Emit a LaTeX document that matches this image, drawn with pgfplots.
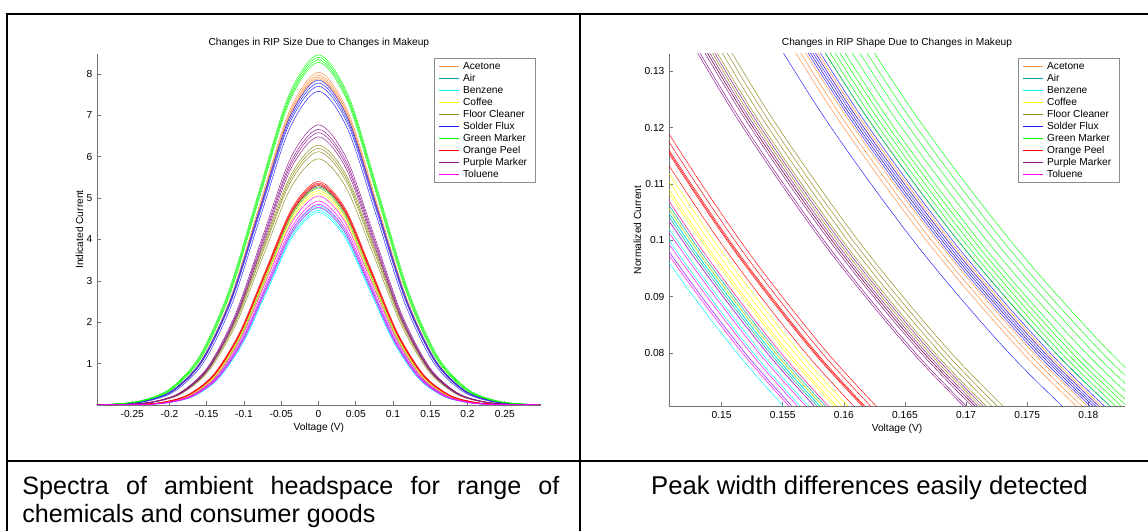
\documentclass[border=0pt]{standalone}
\usepackage{fontspec}
\setmainfont{Liberation Sans}
\usepackage{pgfplots}
\usepackage{pgfplotstable}
\pgfplotsset{compat=1.18}

\definecolor{cAce}{RGB}{255,140,60}
\definecolor{cAir}{RGB}{0,160,160}
\definecolor{cBen}{RGB}{0,255,255}
\definecolor{cCof}{RGB}{255,255,0}
\definecolor{cFlo}{RGB}{140,140,20}
\definecolor{cSol}{RGB}{30,30,255}
\definecolor{cGre}{RGB}{0,255,0}
\definecolor{cOra}{RGB}{255,0,0}
\definecolor{cPur}{RGB}{140,20,140}
\definecolor{cTol}{RGB}{255,0,255}

\newcommand{\tf}{\fontsize{10.2}{12}\selectfont}

% right chart: y levels shared, one x column per curve
\pgfplotstableread{
y a b c d e f
0.14938 0.15327 0.15308 0.15269 0.15230 0.15191 0.15152
0.12230 0.16113 0.16092 0.16051 0.16010 0.15969 0.15929
0.09914 0.16899 0.16878 0.16835 0.16792 0.16749 0.16706
0.07956 0.17685 0.17663 0.17618 0.17573 0.17528 0.17483
0.06321 0.18471 0.18448 0.18401 0.18354 0.18307 0.18260
}\RAce
\pgfplotstableread{
y a b c d e
0.14938 0.13416 0.13397 0.13377 0.13358 0.13338
0.12230 0.14104 0.14084 0.14063 0.14043 0.14022
0.09914 0.14792 0.14771 0.14749 0.14728 0.14706
0.07956 0.15480 0.15458 0.15435 0.15413 0.15390
0.06321 0.16168 0.16145 0.16121 0.16098 0.16074
}\RAir
\pgfplotstableread{
y a b c d e
0.14938 0.13377 0.13299 0.13241 0.13182 0.13124
0.12230 0.14063 0.13981 0.13919 0.13858 0.13796
0.09914 0.14749 0.14663 0.14598 0.14534 0.14470
0.07956 0.15435 0.15345 0.15277 0.15210 0.15143
0.06321 0.16121 0.16027 0.15956 0.15886 0.15816
}\RBen
\pgfplotstableread{
y a b c d e f
0.14938 0.13572 0.13533 0.13494 0.13475 0.13436 0.13397
0.12230 0.14268 0.14227 0.14186 0.14166 0.14125 0.14084
0.09914 0.14964 0.14921 0.14878 0.14857 0.14814 0.14771
0.07956 0.15660 0.15615 0.15570 0.15548 0.15503 0.15458
0.06321 0.16356 0.16309 0.16262 0.16239 0.16192 0.16145
}\RCof
\pgfplotstableread{
y a b c d e f
0.14938 0.14645 0.14606 0.14567 0.14528 0.14489 0.14450
0.12230 0.15396 0.15355 0.15314 0.15273 0.15232 0.15191
0.09914 0.16147 0.16104 0.16061 0.16018 0.15975 0.15932
0.07956 0.16898 0.16853 0.16808 0.16763 0.16718 0.16673
0.06321 0.17649 0.17602 0.17555 0.17508 0.17461 0.17414
}\RFlo
\pgfplotstableread{
y a b c d e f g
0.14938 0.15386 0.15347 0.15308 0.15288 0.15269 0.15249 0.15054
0.12230 0.16175 0.16134 0.16092 0.16072 0.16051 0.16031 0.15826
0.09914 0.16964 0.16921 0.16878 0.16856 0.16835 0.16813 0.16598
0.07956 0.17753 0.17708 0.17663 0.17640 0.17618 0.17595 0.17370
0.06321 0.18542 0.18495 0.18448 0.18424 0.18401 0.18377 0.18142
}\RSol
\pgfplotstableread{
y a b c d e f g h i
0.14938 0.15776 0.15717 0.15659 0.15600 0.15542 0.15503 0.15464 0.15425 0.15386
0.12230 0.16585 0.16523 0.16462 0.16400 0.16339 0.16298 0.16257 0.16216 0.16175
0.09914 0.17394 0.17329 0.17265 0.17200 0.17136 0.17093 0.17050 0.17007 0.16964
0.07956 0.18203 0.18135 0.18068 0.18000 0.17933 0.17888 0.17843 0.17798 0.17753
0.06321 0.19012 0.18941 0.18871 0.18800 0.18730 0.18683 0.18636 0.18589 0.18542
}\RGre
\pgfplotstableread{
y a b c d e f
0.14938 0.13767 0.13728 0.13689 0.13679 0.13670 0.13611
0.12230 0.14473 0.14432 0.14391 0.14381 0.14371 0.14309
0.09914 0.15179 0.15136 0.15093 0.15082 0.15072 0.15007
0.07956 0.15885 0.15840 0.15795 0.15784 0.15773 0.15705
0.06321 0.16591 0.16544 0.16497 0.16485 0.16474 0.16403
}\ROra
\pgfplotstableread{
y a b c d e f
0.14938 0.14508 0.14469 0.14450 0.14430 0.14391 0.14372
0.12230 0.15252 0.15211 0.15191 0.15170 0.15129 0.15109
0.09914 0.15996 0.15953 0.15932 0.15910 0.15867 0.15846
0.07956 0.16740 0.16695 0.16673 0.16650 0.16605 0.16583
0.06321 0.17484 0.17437 0.17414 0.17390 0.17343 0.17320
}\RPur
\pgfplotstableread{
y a b c d e f
0.14938 0.13436 0.13338 0.13280 0.13221 0.13182 0.13163
0.12230 0.14125 0.14022 0.13961 0.13899 0.13858 0.13838
0.09914 0.14814 0.14706 0.14642 0.14577 0.14534 0.14513
0.07956 0.15503 0.15390 0.15323 0.15255 0.15210 0.15188
0.06321 0.16192 0.16074 0.16004 0.15933 0.15886 0.15863
}\RTol

\pgfplotsset{
  ripaxis/.style={
    scale only axis,
    axis x line*=bottom, axis y line*=left,
    axis line style={draw=black!55, line width=0.6pt},
    every tick/.style={draw=black!55, line width=0.6pt},
    tick align=inside, major tick length=4pt,
    ticklabel style={font=\tf, text=black},
    xticklabel style={anchor=base, inner sep=0pt, yshift=-12.6pt},
    yticklabel style={anchor=east, inner sep=0pt, xshift=-4.4pt},
    every axis title/.style={font=\tf, at={(0.5,1)}, anchor=base, inner sep=0pt, yshift=8.4pt},
    every axis x label/.style={at={(axis description cs:0.5,0)}, anchor=base, inner sep=0pt, yshift=-25.6pt, font=\tf},
    every axis plot/.append style={line width=0.45pt, no markers, smooth, forget plot},
    legend cell align=left,
    legend image code/.code={\draw[#1,line width=0.5pt] (0pt,0pt) -- (20pt,0pt);},
    legend style={at={(1,1)}, anchor=north east, xshift=-5pt, yshift=-4pt,
      draw=black!45, line width=0.6pt, fill=white, font=\tf,
      inner xsep=5pt, inner ysep=2pt, row sep=0pt,
      nodes={inner xsep=3.5pt, inner ysep=1.5pt, text height=7.5pt, text depth=1.5pt}},
  },
}

\newcommand{\legendall}{%
  \addlegendimage{cAce}\addlegendentry{Acetone}
  \addlegendimage{cAir}\addlegendentry{Air}
  \addlegendimage{cBen}\addlegendentry{Benzene}
  \addlegendimage{cCof}\addlegendentry{Coffee}
  \addlegendimage{cFlo}\addlegendentry{Floor Cleaner}
  \addlegendimage{cSol}\addlegendentry{Solder Flux}
  \addlegendimage{cGre}\addlegendentry{Green Marker}
  \addlegendimage{cOra}\addlegendentry{Orange Peel}
  \addlegendimage{cPur}\addlegendentry{Purple Marker}
  \addlegendimage{cTol}\addlegendentry{Toluene}
}

\begin{document}
\begin{tikzpicture}
\useasboundingbox (0pt,0pt) rectangle (1148pt,530pt);
\fill[white] (0pt,0pt) rectangle (1148pt,530pt);

% ---------------- left chart ----------------
\begin{axis}[ripaxis,
  at={(96.9pt,125pt)}, anchor=south west,
  width=444pt, height=351pt,
  xmin=-0.2975, xmax=0.2985, ymin=0, ymax=8.48,
  xtick={-0.25,-0.2,-0.15,-0.1,-0.05,0,0.05,0.1,0.15,0.2,0.25},
  xticklabels={-0.25,-0.2,-0.15,-0.1,-0.05,0,0.05,0.1,0.15,0.2,0.25},
  ytick={1,2,3,4,5,6,7,8},
  yticklabels={1,2,3,4,5,6,7,8},
  title={Changes in RIP Size Due to Changes in Makeup},
  xlabel={Voltage (V)},
  ylabel={Indicated Current},
  every axis y label/.style={at={(axis description cs:0,0.5)}, rotate=90, anchor=center, inner sep=0pt, yshift=17.4pt, font=\tf},
]
\legendall
% Acetone
\addplot[cAce] coordinates {(-0.3,0)(-0.27475,0.018)(-0.2355,0.089)(-0.19625,0.353)(-0.157,1.088)(-0.11775,2.611)(-0.0785,4.876)(-0.03925,7.095)(0,8.04)(0.03925,7.095)(0.0785,4.876)(0.11775,2.611)(0.157,1.088)(0.19625,0.353)(0.2355,0.089)(0.27475,0.018)(0.3,0)};
\addplot[cAce] coordinates {(-0.3,0)(-0.2737,0.017)(-0.2346,0.089)(-0.1955,0.350)(-0.1564,1.078)(-0.1173,2.588)(-0.0782,4.834)(-0.0391,7.034)(0,7.97)(0.0391,7.034)(0.0782,4.834)(0.1173,2.588)(0.1564,1.078)(0.1955,0.350)(0.2346,0.089)(0.2737,0.017)(0.3,0)};
\addplot[cAce] coordinates {(-0.3,0)(-0.273,0.017)(-0.234,0.088)(-0.195,0.348)(-0.156,1.072)(-0.117,2.572)(-0.078,4.804)(-0.039,6.989)(0,7.92)(0.039,6.989)(0.078,4.804)(0.117,2.572)(0.156,1.072)(0.195,0.348)(0.234,0.088)(0.273,0.017)(0.3,0)};
\addplot[cAce] coordinates {(-0.3,0)(-0.2723,0.017)(-0.2334,0.088)(-0.1945,0.346)(-0.1556,1.066)(-0.1167,2.559)(-0.0778,4.779)(-0.0389,6.954)(0,7.88)(0.0389,6.954)(0.0778,4.779)(0.1167,2.559)(0.1556,1.066)(0.1945,0.346)(0.2334,0.088)(0.2723,0.017)(0.3,0)};
% Air
\addplot[cAir] coordinates {(-0.3,0)(-0.2408,0.012)(-0.2064,0.059)(-0.172,0.233)(-0.1376,0.717)(-0.1032,1.721)(-0.0688,3.215)(-0.0344,4.677)(0,5.30)(0.0344,4.677)(0.0688,3.215)(0.1032,1.721)(0.1376,0.717)(0.172,0.233)(0.2064,0.059)(0.2408,0.012)(0.3,0)};
\addplot[cAir] coordinates {(-0.3,0)(-0.2401,0.012)(-0.2058,0.059)(-0.1715,0.232)(-0.1372,0.713)(-0.1029,1.711)(-0.0686,3.196)(-0.0343,4.651)(0,5.27)(0.0343,4.651)(0.0686,3.196)(0.1029,1.711)(0.1372,0.713)(0.1715,0.232)(0.2058,0.059)(0.2401,0.012)(0.3,0)};
\addplot[cAir] coordinates {(-0.3,0)(-0.2394,0.011)(-0.2052,0.058)(-0.171,0.230)(-0.1368,0.709)(-0.1026,1.701)(-0.0684,3.178)(-0.0342,4.624)(0,5.24)(0.0342,4.624)(0.0684,3.178)(0.1026,1.701)(0.1368,0.709)(0.171,0.230)(0.2052,0.058)(0.2394,0.011)(0.3,0)};
% Benzene
\addplot[cBen] coordinates {(-0.3,0)(-0.23975,0.011)(-0.2055,0.054)(-0.17125,0.212)(-0.137,0.652)(-0.10275,1.565)(-0.0685,2.923)(-0.03425,4.254)(0,4.82)(0.03425,4.254)(0.0685,2.923)(0.10275,1.565)(0.137,0.652)(0.17125,0.212)(0.2055,0.054)(0.23975,0.011)(0.3,0)};
\addplot[cBen] coordinates {(-0.3,0)(-0.23835,0.010)(-0.2043,0.053)(-0.17025,0.209)(-0.1362,0.644)(-0.10215,1.546)(-0.0681,2.887)(-0.03405,4.201)(0,4.76)(0.03405,4.201)(0.0681,2.887)(0.10215,1.546)(0.1362,0.644)(0.17025,0.209)(0.2043,0.053)(0.23835,0.010)(0.3,0)};
\addplot[cBen] coordinates {(-0.3,0)(-0.23695,0.010)(-0.2031,0.052)(-0.16925,0.207)(-0.1354,0.636)(-0.10155,1.526)(-0.0677,2.851)(-0.03385,4.148)(0,4.70)(0.03385,4.148)(0.0677,2.851)(0.10155,1.526)(0.1354,0.636)(0.16925,0.207)(0.2031,0.052)(0.23695,0.010)(0.3,0)};
\addplot[cBen] coordinates {(-0.3,0)(-0.23555,0.010)(-0.2019,0.052)(-0.16825,0.204)(-0.1346,0.629)(-0.10095,1.510)(-0.0673,2.820)(-0.03365,4.104)(0,4.65)(0.03365,4.104)(0.0673,2.820)(0.10095,1.510)(0.1346,0.629)(0.16825,0.204)(0.2019,0.052)(0.23555,0.010)(0.3,0)};
% Coffee
\addplot[cCof] coordinates {(-0.3,0)(-0.24325,0.011)(-0.2085,0.058)(-0.17375,0.231)(-0.139,0.710)(-0.10425,1.705)(-0.0695,3.184)(-0.03475,4.633)(0,5.25)(0.03475,4.633)(0.0695,3.184)(0.10425,1.705)(0.139,0.710)(0.17375,0.231)(0.2085,0.058)(0.24325,0.011)(0.3,0)};
\addplot[cCof] coordinates {(-0.3,0)(-0.24185,0.011)(-0.2073,0.058)(-0.17275,0.228)(-0.1382,0.701)(-0.10365,1.682)(-0.0691,3.142)(-0.03455,4.571)(0,5.18)(0.03455,4.571)(0.0691,3.142)(0.10365,1.682)(0.1382,0.701)(0.17275,0.228)(0.2073,0.058)(0.24185,0.011)(0.3,0)};
\addplot[cCof] coordinates {(-0.3,0)(-0.24045,0.011)(-0.2061,0.057)(-0.17175,0.225)(-0.1374,0.693)(-0.10305,1.663)(-0.0687,3.105)(-0.03435,4.518)(0,5.12)(0.03435,4.518)(0.0687,3.105)(0.10305,1.663)(0.1374,0.693)(0.17175,0.225)(0.2061,0.057)(0.24045,0.011)(0.3,0)};
% Floor Cleaner
\addplot[cFlo] coordinates {(-0.3,0)(-0.26285,0.014)(-0.2253,0.070)(-0.18775,0.276)(-0.1502,0.850)(-0.11265,2.039)(-0.0751,3.809)(-0.03755,5.542)(0,6.28)(0.03755,5.542)(0.0751,3.809)(0.11265,2.039)(0.1502,0.850)(0.18775,0.276)(0.2253,0.070)(0.26285,0.014)(0.3,0)};
\addplot[cFlo] coordinates {(-0.3,0)(-0.26145,0.014)(-0.2241,0.069)(-0.18675,0.272)(-0.1494,0.839)(-0.11205,2.013)(-0.0747,3.760)(-0.03735,5.472)(0,6.20)(0.03735,5.472)(0.0747,3.760)(0.11205,2.013)(0.1494,0.839)(0.18675,0.272)(0.2241,0.069)(0.26145,0.014)(0.3,0)};
\addplot[cFlo] coordinates {(-0.3,0)(-0.2604,0.013)(-0.2232,0.068)(-0.186,0.269)(-0.1488,0.828)(-0.1116,1.987)(-0.0744,3.712)(-0.0372,5.401)(0,6.12)(0.0372,5.401)(0.0744,3.712)(0.1116,1.987)(0.1488,0.828)(0.186,0.269)(0.2232,0.068)(0.2604,0.013)(0.3,0)};
\addplot[cFlo] coordinates {(-0.3,0)(-0.25935,0.013)(-0.2223,0.066)(-0.18525,0.261)(-0.1482,0.805)(-0.11115,1.932)(-0.0741,3.609)(-0.03705,5.251)(0,5.95)(0.03705,5.251)(0.0741,3.609)(0.11115,1.932)(0.1482,0.805)(0.18525,0.261)(0.2223,0.066)(0.25935,0.013)(0.3,0)};
% Solder Flux
\addplot[cSol] coordinates {(-0.3,0)(-0.27545,0.017)(-0.2361,0.087)(-0.19675,0.345)(-0.1574,1.062)(-0.11805,2.549)(-0.0787,4.761)(-0.03935,6.928)(0,7.85)(0.03935,6.928)(0.0787,4.761)(0.11805,2.549)(0.1574,1.062)(0.19675,0.345)(0.2361,0.087)(0.27545,0.017)(0.3,0)};
\addplot[cSol] coordinates {(-0.3,0)(-0.2744,0.017)(-0.2352,0.086)(-0.196,0.342)(-0.1568,1.053)(-0.1176,2.526)(-0.0784,4.719)(-0.0392,6.866)(0,7.78)(0.0392,6.866)(0.0784,4.719)(0.1176,2.526)(0.1568,1.053)(0.196,0.342)(0.2352,0.086)(0.2744,0.017)(0.3,0)};
\addplot[cSol] coordinates {(-0.3,0)(-0.2737,0.017)(-0.2346,0.086)(-0.1955,0.338)(-0.1564,1.042)(-0.1173,2.500)(-0.0782,4.670)(-0.0391,6.795)(0,7.70)(0.0391,6.795)(0.0782,4.670)(0.1173,2.500)(0.1564,1.042)(0.1955,0.338)(0.2346,0.086)(0.2737,0.017)(0.3,0)};
\addplot[cSol] coordinates {(-0.3,0)(-0.2702,0.017)(-0.2316,0.084)(-0.193,0.333)(-0.1544,1.026)(-0.1158,2.461)(-0.0772,4.597)(-0.0386,6.689)(0,7.58)(0.0386,6.689)(0.0772,4.597)(0.1158,2.461)(0.1544,1.026)(0.193,0.333)(0.2316,0.084)(0.2702,0.017)(0.3,0)};
% Green Marker
\addplot[cGre] coordinates {(-0.3,0)(-0.28175,0.0185)(-0.2415,0.094)(-0.20125,0.372)(-0.161,1.145)(-0.12075,2.747)(-0.0805,5.131)(-0.04025,7.466)(0,8.46)(0.04025,7.466)(0.0805,5.131)(0.12075,2.747)(0.161,1.145)(0.20125,0.372)(0.2415,0.094)(0.28175,0.0185)(0.3,0)};
\addplot[cGre] coordinates {(-0.3,0)(-0.28,0.018)(-0.24,0.093)(-0.2,0.369)(-0.16,1.137)(-0.12,2.727)(-0.08,5.095)(-0.04,7.413)(0,8.40)(0.04,7.413)(0.08,5.095)(0.12,2.727)(0.16,1.137)(0.2,0.369)(0.24,0.093)(0.28,0.018)(0.3,0)};
\addplot[cGre] coordinates {(-0.3,0)(-0.27825,0.018)(-0.2385,0.093)(-0.19875,0.366)(-0.159,1.128)(-0.11925,2.708)(-0.0795,5.058)(-0.03975,7.360)(0,8.34)(0.03975,7.360)(0.0795,5.058)(0.11925,2.708)(0.159,1.128)(0.19875,0.366)(0.2385,0.093)(0.27825,0.018)(0.3,0)};
\addplot[cGre] coordinates {(-0.3,0)(-0.2765,0.018)(-0.237,0.092)(-0.1975,0.364)(-0.158,1.120)(-0.1185,2.689)(-0.079,5.022)(-0.0395,7.307)(0,8.28)(0.0395,7.307)(0.079,5.022)(0.1185,2.689)(0.158,1.120)(0.1975,0.364)(0.237,0.092)(0.2765,0.018)(0.3,0)};
% Orange Peel
\addplot[cOra] coordinates {(-0.3,0)(-0.2471,0.012)(-0.2118,0.060)(-0.1765,0.237)(-0.1412,0.731)(-0.1059,1.753)(-0.0706,3.275)(-0.0353,4.766)(0,5.40)(0.0353,4.766)(0.0706,3.275)(0.1059,1.753)(0.1412,0.731)(0.1765,0.237)(0.2118,0.060)(0.2471,0.012)(0.3,0)};
\addplot[cOra] coordinates {(-0.3,0)(-0.24605,0.012)(-0.2109,0.060)(-0.17575,0.236)(-0.1406,0.725)(-0.10545,1.740)(-0.0703,3.251)(-0.03515,4.730)(0,5.36)(0.03515,4.730)(0.0703,3.251)(0.10545,1.740)(0.1406,0.725)(0.17575,0.236)(0.2109,0.060)(0.24605,0.012)(0.3,0)};
\addplot[cOra] coordinates {(-0.3,0)(-0.24535,0.012)(-0.2103,0.059)(-0.17525,0.234)(-0.1402,0.721)(-0.10515,1.731)(-0.0701,3.233)(-0.03505,4.704)(0,5.33)(0.03505,4.704)(0.0701,3.233)(0.10515,1.731)(0.1402,0.721)(0.17525,0.234)(0.2103,0.059)(0.24535,0.012)(0.3,0)};
\addplot[cOra] coordinates {(-0.3,0)(-0.24465,0.012)(-0.2097,0.059)(-0.17475,0.233)(-0.1398,0.717)(-0.10485,1.721)(-0.0699,3.215)(-0.03495,4.677)(0,5.30)(0.03495,4.677)(0.0699,3.215)(0.10485,1.721)(0.1398,0.717)(0.17475,0.233)(0.2097,0.059)(0.24465,0.012)(0.3,0)};
% Purple Marker
\addplot[cPur] coordinates {(-0.3,0)(-0.2604,0.015)(-0.2232,0.075)(-0.186,0.298)(-0.1488,0.916)(-0.1116,2.198)(-0.0744,4.106)(-0.0372,5.975)(0,6.77)(0.0372,5.975)(0.0744,4.106)(0.1116,2.198)(0.1488,0.916)(0.186,0.298)(0.2232,0.075)(0.2604,0.015)(0.3,0)};
\addplot[cPur] coordinates {(-0.3,0)(-0.25935,0.015)(-0.2223,0.074)(-0.18525,0.293)(-0.1482,0.901)(-0.11115,2.163)(-0.0741,4.039)(-0.03705,5.878)(0,6.66)(0.03705,5.878)(0.0741,4.039)(0.11115,2.163)(0.1482,0.901)(0.18525,0.293)(0.2223,0.074)(0.25935,0.015)(0.3,0)};
\addplot[cPur] coordinates {(-0.3,0)(-0.25865,0.014)(-0.2217,0.073)(-0.18475,0.289)(-0.1478,0.890)(-0.11085,2.137)(-0.0739,3.991)(-0.03695,5.807)(0,6.58)(0.03695,5.807)(0.0739,3.991)(0.11085,2.137)(0.1478,0.890)(0.18475,0.289)(0.2217,0.073)(0.25865,0.014)(0.3,0)};
\addplot[cPur] coordinates {(-0.3,0)(-0.25795,0.014)(-0.2211,0.072)(-0.18425,0.285)(-0.1474,0.877)(-0.11055,2.104)(-0.0737,3.930)(-0.03685,5.719)(0,6.48)(0.03685,5.719)(0.0737,3.930)(0.11055,2.104)(0.1474,0.877)(0.18425,0.285)(0.2211,0.072)(0.25795,0.014)(0.3,0)};
% Toluene
\addplot[cTol] coordinates {(-0.3,0)(-0.2408,0.011)(-0.2064,0.056)(-0.172,0.222)(-0.1376,0.683)(-0.1032,1.640)(-0.0688,3.063)(-0.0344,4.457)(0,5.05)(0.0344,4.457)(0.0688,3.063)(0.1032,1.640)(0.1376,0.683)(0.172,0.222)(0.2064,0.056)(0.2408,0.011)(0.3,0)};
\addplot[cTol] coordinates {(-0.3,0)(-0.23905,0.011)(-0.2049,0.055)(-0.17075,0.217)(-0.1366,0.667)(-0.10245,1.601)(-0.0683,2.990)(-0.03415,4.351)(0,4.93)(0.03415,4.351)(0.0683,2.990)(0.10245,1.601)(0.1366,0.667)(0.17075,0.217)(0.2049,0.055)(0.23905,0.011)(0.3,0)};
\addplot[cTol] coordinates {(-0.3,0)(-0.23765,0.011)(-0.2037,0.054)(-0.16975,0.213)(-0.1358,0.656)(-0.10185,1.575)(-0.0679,2.942)(-0.03395,4.280)(0,4.85)(0.03395,4.280)(0.0679,2.942)(0.10185,1.575)(0.1358,0.656)(0.16975,0.213)(0.2037,0.054)(0.23765,0.011)(0.3,0)};
\addplot[cTol] coordinates {(-0.3,0)(-0.23625,0.010)(-0.2025,0.053)(-0.16875,0.210)(-0.135,0.647)(-0.10125,1.552)(-0.0675,2.899)(-0.03375,4.218)(0,4.78)(0.03375,4.218)(0.0675,2.899)(0.10125,1.552)(0.135,0.647)(0.16875,0.210)(0.2025,0.053)(0.23625,0.010)(0.3,0)};
\end{axis}

% ---------------- right chart ----------------
\begin{axis}[ripaxis,
  at={(669pt,124pt)}, anchor=south west,
  width=456pt, height=352pt,
  xmin=0.1457, xmax=0.1830, ymin=0.0706, ymax=0.1331,
  xtick={0.15,0.155,0.16,0.165,0.17,0.175,0.18},
  xticklabels={0.15,0.155,0.16,0.165,0.17,0.175,0.18},
  ytick={0.08,0.09,0.1,0.11,0.12,0.13},
  yticklabels={0.08,0.09,0.1,0.11,0.12,0.13},
  title={Changes in RIP Shape Due to Changes in Makeup},
  xlabel={Voltage (V)},
  ylabel={Normalized Current},
  every axis y label/.style={at={(axis description cs:0,0.5)}, rotate=90, anchor=center, inner sep=0pt, yshift=31.6pt, font=\tf},
]
\legendall
\pgfplotsinvokeforeach{a,b,c,d,e,f}{\addplot[cAce] table[x=#1,y=y]{\RAce};}
\pgfplotsinvokeforeach{a,b,c,d,e}{\addplot[cAir] table[x=#1,y=y]{\RAir};}
\pgfplotsinvokeforeach{a,b,c,d,e}{\addplot[cBen] table[x=#1,y=y]{\RBen};}
\pgfplotsinvokeforeach{a,b,c,d,e,f}{\addplot[cCof] table[x=#1,y=y]{\RCof};}
\pgfplotsinvokeforeach{a,b,c,d,e,f}{\addplot[cFlo] table[x=#1,y=y]{\RFlo};}
\pgfplotsinvokeforeach{a,b,c,d,e,f,g}{\addplot[cSol] table[x=#1,y=y]{\RSol};}
\pgfplotsinvokeforeach{a,b,c,d,e,f,g,h,i}{\addplot[cGre] table[x=#1,y=y]{\RGre};}
\pgfplotsinvokeforeach{a,b,c,d,e,f}{\addplot[cOra] table[x=#1,y=y]{\ROra};}
\pgfplotsinvokeforeach{a,b,c,d,e,f}{\addplot[cPur] table[x=#1,y=y]{\RPur};}
\pgfplotsinvokeforeach{a,b,c,d,e,f}{\addplot[cTol] table[x=#1,y=y]{\RTol};}
\end{axis}

% ---------------- table frame and captions ----------------
\draw[line width=2pt, black] (6pt,516pt) -- (1150pt,516pt);
\draw[line width=2pt, black] (7.4pt,517pt) -- (7.4pt,-2pt);
\draw[line width=2pt, black] (579.5pt,517pt) -- (579.5pt,-2pt);
\draw[line width=2pt, black] (6pt,69pt) -- (1150pt,69pt);

\node[anchor=base west, inner sep=0pt, font=\fontsize{25.1}{27.3}\selectfont] at (22.2pt,35pt)
  {\makebox[537pt][s]{Spectra of ambient headspace for range of}};
\node[anchor=base west, inner sep=0pt, font=\fontsize{25.1}{27.3}\selectfont] at (22.2pt,7.7pt)
  {chemicals and consumer goods};
\node[anchor=base, inner sep=0pt, font=\fontsize{25.7}{27.3}\selectfont] at (869.5pt,35.5pt)
  {Peak width differences easily detected};
\end{tikzpicture}
\end{document}
